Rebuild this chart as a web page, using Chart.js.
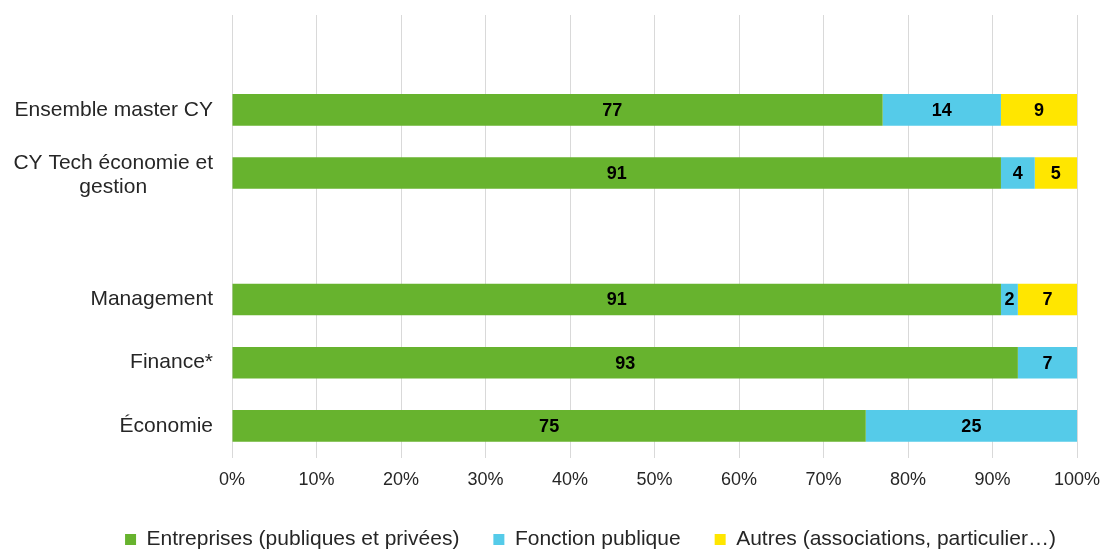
<!DOCTYPE html>
<html>
<head>
<meta charset="utf-8">
<script src="https://cdn.jsdelivr.net/npm/chart.js@4"></script>
<style>
  html, body { margin: 0; padding: 0; background: #ffffff; }
  #wrap { width: 1102px; height: 549px; }
</style>
</head>
<body>
<div id="wrap"><canvas id="c" width="1102" height="549"></canvas></div>
<script>
const categories = ['', 'Ensemble master CY', ['CY Tech économie et', 'gestion'], '', 'Management', 'Finance*', 'Économie'];
const seriesNames = ['Entreprises (publiques et privées)', 'Fonction publique', 'Autres (associations, particulier…)'];
const entreprises = [null, 77, 91, null, 91, 93, 75];
const fonctionPublique = [null, 14, 4, null, 2, 7, 25];
const autres = [null, 9, 5, null, 7, null, null];
const xTicks = [0, 10, 20, 30, 40, 50, 60, 70, 80, 90, 100];

const FONT = "'Liberation Sans', Arial, sans-serif";
const TEXT = '#262626';
// label of "77" was moved by hand in the original: anchored at this x value (data units)
const movedLabels = { '0-1': 45 };

const valueLabels = {
  id: 'valueLabels',
  afterDatasetsDraw(chart) {
    const ctx = chart.ctx;
    const xs = chart.scales.x;
    ctx.save();
    ctx.font = 'bold 18px ' + FONT;
    ctx.fillStyle = '#000000';
    ctx.textAlign = 'center';
    ctx.textBaseline = 'middle';
    chart.data.datasets.forEach((ds, di) => {
      const meta = chart.getDatasetMeta(di);
      meta.data.forEach((el, i) => {
        const v = ds.data[i];
        if (v === null || v === undefined) return;
        const key = di + '-' + i;
        const cx = key in movedLabels ? xs.getPixelForValue(movedLabels[key]) : (el.x + el.base) / 2;
        ctx.fillText(String(v), cx, el.y + 1);
      });
    });
    ctx.restore();
  }
};

const yLabels = {
  id: 'yLabels',
  afterDraw(chart) {
    const ctx = chart.ctx;
    const ys = chart.scales.y;
    const right = ys.right - 19;
    ctx.save();
    ctx.font = '21px ' + FONT;
    ctx.fillStyle = TEXT;
    ctx.textBaseline = 'middle';
    categories.forEach((lab, i) => {
      const y = ys.getPixelForTick(i);
      if (Array.isArray(lab)) {
        const lh = 24;
        const maxW = Math.max(...lab.map(t => ctx.measureText(t).width));
        const cx = right - maxW / 2;
        ctx.textAlign = 'center';
        const start = y - 10;
        lab.forEach((t, k) => ctx.fillText(t, cx, start + k * lh));
      } else if (lab) {
        ctx.textAlign = 'right';
        ctx.fillText(lab, right, y);
      }
    });
    ctx.restore();
  }
};

const legendShift = {
  id: 'legendShift',
  afterLayout(chart) {
    const lg = chart.legend;
    if (lg) { lg.left += 52; lg.right += 52; }
  }
};

new Chart(document.getElementById('c'), {
  type: 'bar',
  data: {
    labels: categories,
    datasets: [
      { label: seriesNames[0], data: entreprises, backgroundColor: '#67b32e', borderWidth: 0 },
      { label: seriesNames[1], data: fonctionPublique, backgroundColor: '#55cbe9', borderWidth: 0 },
      { label: seriesNames[2], data: autres, backgroundColor: '#ffe600', borderWidth: 0 }
    ]
  },
  options: {
    indexAxis: 'y',
    responsive: false,
    animation: false,
    devicePixelRatio: 1,
    layout: { padding: { top: 15, right: 25, left: 0, bottom: -11 } },
    datasets: { bar: { categoryPercentage: 1.0, barPercentage: 0.5 } },
    scales: {
      x: {
        stacked: true,
        min: 0,
        max: 100,
        afterBuildTicks(scale) { scale.ticks = xTicks.map(v => ({ value: v })); },
        afterFit(scale) { scale.height = 37.5; scale.paddingLeft = 0; scale.paddingRight = 0; },
        ticks: {
          callback: v => v + '%',
          font: { family: FONT, size: 18 },
          color: TEXT,
          padding: 12,
          maxRotation: 0
        },
        grid: { color: '#d9d9d9', lineWidth: 1, drawTicks: false },
        border: { display: false }
      },
      y: {
        stacked: true,
        ticks: { display: false },
        grid: { display: false },
        border: { display: false },
        afterFit(scale) { scale.width = 232; }
      }
    },
    plugins: {
      legend: {
        position: 'bottom',
        labels: {
          boxWidth: 11,
          boxHeight: 11,
          padding: 34,
          color: TEXT,
          font: { family: FONT, size: 21 }
        }
      },
      tooltip: { enabled: false }
    }
  },
  plugins: [valueLabels, yLabels, legendShift]
});
</script>
</body>
</html>
